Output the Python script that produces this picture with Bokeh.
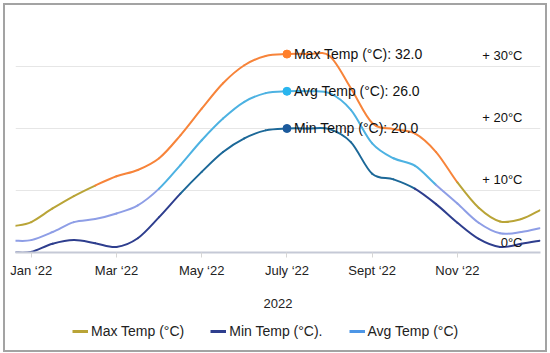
from bokeh.plotting import figure
from bokeh.layouts import column
from bokeh.models import Range1d, FixedTicker, Legend, LegendItem, ColumnDataSource
from bokeh.core.properties import value
from bokeh.embed import file_html
from bokeh.resources import INLINE

# ---- data (month index: 0 = Jan 2022) ----
months = [-0.37, 0, 0.5, 1, 1.5, 2, 2.5, 3, 3.5, 4, 4.5, 5, 5.5, 6, 6.5, 7, 7.5, 8,
          8.5, 9, 9.5, 10, 10.5, 11, 11.5, 11.93]
max_temp = [4.3, 4.9, 7.1, 9.1, 10.8, 12.3, 13.3, 15.2, 18.9, 23.2, 27.3, 30.2, 31.7,
            32.0, 32.0, 31.7, 26.5, 20.9, 19.9, 19.2, 16.2, 11.3, 7.2, 5.0, 5.4, 6.8]
avg_temp = [1.9, 2.0, 3.3, 4.9, 5.4, 6.3, 7.6, 10.3, 14.1, 18.1, 21.6, 24.3, 25.7,
            26.0, 26.0, 25.7, 23.0, 17.6, 15.2, 14.0, 10.9, 7.9, 4.8, 3.1, 3.3, 3.9]
min_temp = [0.0, 0.1, 1.4, 2.0, 1.5, 0.9, 2.3, 5.7, 9.5, 13.0, 16.2, 18.4, 19.7,
            20.0, 20.0, 19.9, 17.8, 12.7, 11.8, 10.3, 7.8, 4.8, 2.2, 0.9, 1.4, 1.9]

tick_months = [0, 2, 4, 6, 8, 10]
tick_labels = ["Jan \u201822", "Mar \u201822", "May \u201822", "July \u201822", "Sept \u201822", "Nov \u201822"]

y_ticks = [0, 10, 20, 30]
y_labels = ["0\u00b0C", "+ 10\u00b0C", "+ 20\u00b0C", "+ 30\u00b0C"]

highlight_month = 6  # July

FONT = "Liberation Sans"

p = figure(width=540, height=310, x_range=Range1d(-0.37, 11.95), y_range=Range1d(0, 39.03),
           output_backend="svg", toolbar_location=None, y_axis_location=None,
           min_border_left=10, min_border_right=5, min_border_top=5, min_border_bottom=63)
p.outline_line_color = None
p.background_fill_color = "white"
p.border_fill_color = "white"

p.xgrid.visible = False
p.ygrid.ticker = FixedTicker(ticks=[t for t in y_ticks if t > 0])
p.ygrid.grid_line_color = "#e6e6e6"
p.ygrid.grid_line_width = 1


def smooth(xs, ys):
    n = len(xs)
    d = dict(x0=[], y0=[], x1=[], y1=[], cx0=[], cy0=[], cx1=[], cy1=[], mid=[])
    for i in range(n - 1):
        ip = max(i - 1, 0)
        i2 = min(i + 2, n - 1)
        d["x0"].append(xs[i]); d["y0"].append(ys[i])
        d["x1"].append(xs[i + 1]); d["y1"].append(ys[i + 1])
        d["cx0"].append(xs[i] + (xs[i + 1] - xs[ip]) / 6)
        d["cy0"].append(ys[i] + (ys[i + 1] - ys[ip]) / 6)
        d["cx1"].append(xs[i + 1] - (xs[i2] - xs[i]) / 6)
        d["cy1"].append(ys[i + 1] - (ys[i2] - ys[i]) / 6)
        d["mid"].append((ys[i] + ys[i + 1]) / 2)
    return d


series = [
    ("Max Temp", max_temp, 11.5, "#f7843a", "#b9a437", "#ff7f2a"),
    ("Avg Temp", avg_temp, 10.0, "#4db2e2", "#8e9ee6", "#29b5ee"),
    ("Min Temp", min_temp, 10.0, "#1c6898", "#2e3e8e", "#1b5a9c"),
]

for name, vals, thr, hi, lo, mk in series:
    d = smooth(months, vals)
    d["color"] = [hi if m >= thr else lo for m in d["mid"]]
    src = ColumnDataSource(d)
    p.bezier(x0="x0", y0="y0", x1="x1", y1="y1", cx0="cx0", cy0="cy0", cx1="cx1", cy1="cy1",
             source=src, line_color="color", line_width=2, line_cap="round")

for name, vals, thr, hi, lo, mk in series:
    idx = months.index(highlight_month)
    p.scatter([months[idx]], [vals[idx]], size=8, color=mk)
    p.text([months[idx]], [vals[idx]], text=[f"{name} (\u00b0C): {vals[idx]:.1f}"],
           x_offset=7, text_baseline="middle", text_align="left",
           text_font=value(FONT), text_font_size="14px", text_color="#111")

# right-side value labels
p.text(x=[p.x_range.end] * len(y_ticks), y=y_ticks, text=y_labels,
       x_offset=-18, y_offset=-3, text_align="right", text_baseline="bottom",
       text_font=value(FONT), text_font_size="13px", text_color="#111")

ax = p.xaxis[0]
ax.ticker = FixedTicker(ticks=tick_months)
ax.major_label_overrides = dict(zip(tick_months, tick_labels))
ax.major_label_text_font = FONT
ax.major_label_text_font_size = "13px"
ax.major_label_text_color = "#222"
ax.major_label_standoff = 5
ax.axis_line_color = "#c5c9d6"
ax.axis_line_width = 2
ax.major_tick_out = 5
ax.major_tick_in = 0
ax.major_tick_line_color = "#d6d6d6"
ax.minor_tick_line_color = None
ax.axis_label = "2022"
ax.axis_label_text_font = FONT
ax.axis_label_text_font_size = "13px"
ax.axis_label_text_font_style = "normal"
ax.axis_label_text_color = "#222"
ax.axis_label_standoff = 18

# legend strip below the chart
p2 = figure(width=540, height=35, x_range=Range1d(0, 1), y_range=Range1d(0, 1),
            output_backend="svg", toolbar_location=None, x_axis_location=None,
            y_axis_location=None, min_border=0)
p2.outline_line_color = None
p2.grid.visible = False
p2.border_fill_color = "white"

legend_series = [("Max Temp (\u00b0C)", "#b9a437"), ("Min Temp (\u00b0C).", "#2e3e8e"),
                 ("Avg Temp (\u00b0C)", "#4d96e6")]
nan = float("nan")
items = []
for lab, col in legend_series:
    r = p2.line(x=[nan], y=[nan], line_color=col, line_width=3)
    items.append(LegendItem(label=lab, renderers=[r]))
legend = Legend(items=items, orientation="horizontal", location=(57, 9),
                label_text_font=FONT, label_text_font_size="14px", label_text_color="#222",
                glyph_width=16, label_standoff=3, spacing=26, border_line_color=None,
                background_fill_alpha=0, padding=0, margin=0)
p2.add_layout(legend)

layout = column(p, p2, spacing=0,
                styles={"border": "2px solid #a3a3a3", "margin": "3px"})

open("out.html", "w").write(file_html(layout, INLINE))
